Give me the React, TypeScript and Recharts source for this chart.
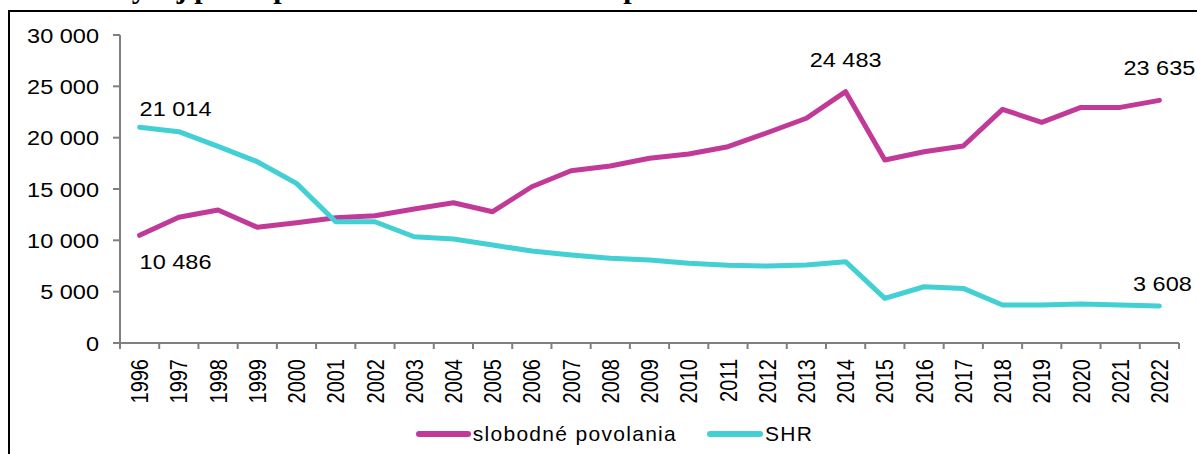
import React from 'react';
import { LabelList, Legend, Line, LineChart, XAxis, YAxis } from 'recharts';

const YEARS = [
  '1996', '1997', '1998', '1999', '2000', '2001', '2002', '2003', '2004',
  '2005', '2006', '2007', '2008', '2009', '2010', '2011', '2012', '2013',
  '2014', '2015', '2016', '2017', '2018', '2019', '2020', '2021', '2022',
];

const SLOBODNE = [
  10486, 12250, 12950, 11270, 11720, 12200, 12400, 13050, 13660,
  12790, 15220, 16780, 17240, 17990, 18410, 19120, 20480, 21890,
  24483, 17820, 18630, 19190, 22760, 21490, 22950, 22950, 23635,
];

const SHR = [
  21014, 20580, 19150, 17660, 15550, 11810, 11810, 10350, 10130,
  9545, 8960, 8570, 8250, 8080, 7760, 7570, 7500, 7600,
  7920, 4350, 5480, 5320, 3700, 3700, 3800, 3700, 3608,
];

const Y_TICKS = [0, 5000, 10000, 15000, 20000, 25000, 30000];

const TITLE = 'Vývoj počtu podnikateľov v slobodnom povolaní a SHR v rokoch 1996 – 2022';

const MAGENTA = '#C13A98';
const CYAN = '#42D0D4';
const AXIS = '#7f7f7f';
const FONT = '"Liberation Sans", Arial, sans-serif';

const data = YEARS.map((y, i) => ({ year: y, slobodne: SLOBODNE[i], shr: SHR[i] }));

const fmt = (v: number) => {
  const s = String(Math.round(v));
  return s.replace(/\B(?=(\d{3})+(?!\d))/g, ' ');
};

// which points get a value label, and where the text goes relative to the point
const SLOB_LABELS: Record<number, { dx: number; dy: number; anchor: 'start' | 'middle' }> = {
  0: { dx: 0, dy: 26, anchor: 'start' },
  18: { dx: 0, dy: -32, anchor: 'middle' },
  26: { dx: 0, dy: -33, anchor: 'middle' },
};
const SHR_LABELS: Record<number, { dx: number; dy: number; anchor: 'start' | 'middle' }> = {
  0: { dx: 0, dy: -19, anchor: 'start' },
  26: { dx: 3, dy: -23, anchor: 'middle' },
};

function makeLabel(map: typeof SLOB_LABELS) {
  return (props: any) => {
    const { x, y, value, index } = props;
    const cfg = map[index];
    if (!cfg) return null;
    return (
      <text
        transform={`translate(${x + cfg.dx},${y + cfg.dy}) scale(1.12,1)`}
        textAnchor={cfg.anchor}
        dy="0.36em"
        fontSize={21}
        fontFamily={FONT}
        fill="#000"
      >
        {fmt(value)}
      </text>
    );
  };
}

function YTick(props: any) {
  const { x, y, payload } = props;
  return (
    <text
      transform={`translate(${x},${y}) scale(1.12,1)`}
      textAnchor="end"
      dy="0.36em"
      fontSize={21}
      fontFamily={FONT}
      fill="#000"
    >
      {fmt(payload.value)}
    </text>
  );
}

const X_TICK_SIZE = 6;
const X_TICK_MARGIN = 10;

function XTick(props: any) {
  const { x, y, payload, index } = props;
  const off = payload.offset || 19.6;
  const axisY = y - X_TICK_SIZE - X_TICK_MARGIN;
  return (
    <g>
      <line x1={x - off} x2={x - off} y1={axisY} y2={axisY + X_TICK_SIZE} stroke={AXIS} strokeWidth={2} />
      {index === YEARS.length - 1 && (
        <line x1={x + off} x2={x + off} y1={axisY} y2={axisY + X_TICK_SIZE} stroke={AXIS} strokeWidth={2} />
      )}
      <text
        transform={`translate(${x},${y}) rotate(-90) scale(1,1.2)`}
        textAnchor="end"
        dy="0.36em"
        fontSize={20}
        fontFamily={FONT}
        fill="#000"
      >
        {payload.value}
      </text>
    </g>
  );
}

function LegendContent() {
  const item = (color: string, label: string, lineW: number, gapAfter: number) => (
    <div style={{ display: 'flex', alignItems: 'center', marginRight: gapAfter }}>
      <div style={{ width: lineW, height: 6, borderRadius: 3, background: color, marginRight: 2 }} />
      <span style={{ fontFamily: FONT, fontSize: 21, letterSpacing: 1.3, color: '#000' }}>{label}</span>
    </div>
  );
  return (
    <div style={{ display: 'flex', justifyContent: 'center', alignItems: 'center', height: 41, paddingLeft: 30 }}>
      {item(MAGENTA, 'slobodné povolania', 55, 30)}
      {item(CYAN, 'SHR', 56, 0)}
    </div>
  );
}

export default function App() {
  return (
    <div style={{ position: 'absolute', left: 0, top: 0, width: 1197, height: 454, overflow: 'hidden', background: '#fff' }}>
      <div
        style={{
          position: 'absolute',
          left: 110,
          top: -27,
          fontFamily: '"Liberation Serif", "Times New Roman", serif',
          fontWeight: 'bold',
          fontSize: 30,
          lineHeight: '30px',
          whiteSpace: 'nowrap',
          color: '#000',
        }}
      >
        {TITLE}
      </div>
      <div
        style={{
          position: 'absolute',
          left: 8,
          top: 10,
          width: 1300,
          height: 500,
          borderLeft: '2px solid #000',
          borderTop: '2px solid #000',
          background: '#fff',
        }}
      />
      <div style={{ position: 'absolute', left: 0, top: 0 }}>
        <LineChart width={1197} height={454} data={data} margin={{ top: 35, right: 18, left: 20, bottom: 0 }}>
          <XAxis
            dataKey="year"
            scale="band"
            interval={0}
            height={70}
            tickSize={X_TICK_SIZE}
            tickMargin={X_TICK_MARGIN}
            tickLine={false}
            axisLine={{ stroke: AXIS, strokeWidth: 2 }}
            tick={<XTick />}
          />
          <YAxis
            width={100}
            domain={[0, 30000]}
            ticks={Y_TICKS}
            interval={0}
            tickSize={7}
            tickMargin={14}
            tickLine={{ stroke: AXIS, strokeWidth: 2 }}
            axisLine={{ stroke: AXIS, strokeWidth: 2 }}
            tick={<YTick />}
          />
          <Legend verticalAlign="bottom" height={41} content={<LegendContent />} />
          <Line
            type="linear"
            dataKey="slobodne"
            name="slobodné povolania"
            stroke={MAGENTA}
            strokeWidth={5}
            strokeLinecap="round"
            strokeLinejoin="round"
            dot={false}
            activeDot={false}
            isAnimationActive={false}
          >
            <LabelList dataKey="slobodne" content={makeLabel(SLOB_LABELS)} />
          </Line>
          <Line
            type="linear"
            dataKey="shr"
            name="SHR"
            stroke={CYAN}
            strokeWidth={5}
            strokeLinecap="round"
            strokeLinejoin="round"
            dot={false}
            activeDot={false}
            isAnimationActive={false}
          >
            <LabelList dataKey="shr" content={makeLabel(SHR_LABELS)} />
          </Line>
        </LineChart>
      </div>
    </div>
  );
}
